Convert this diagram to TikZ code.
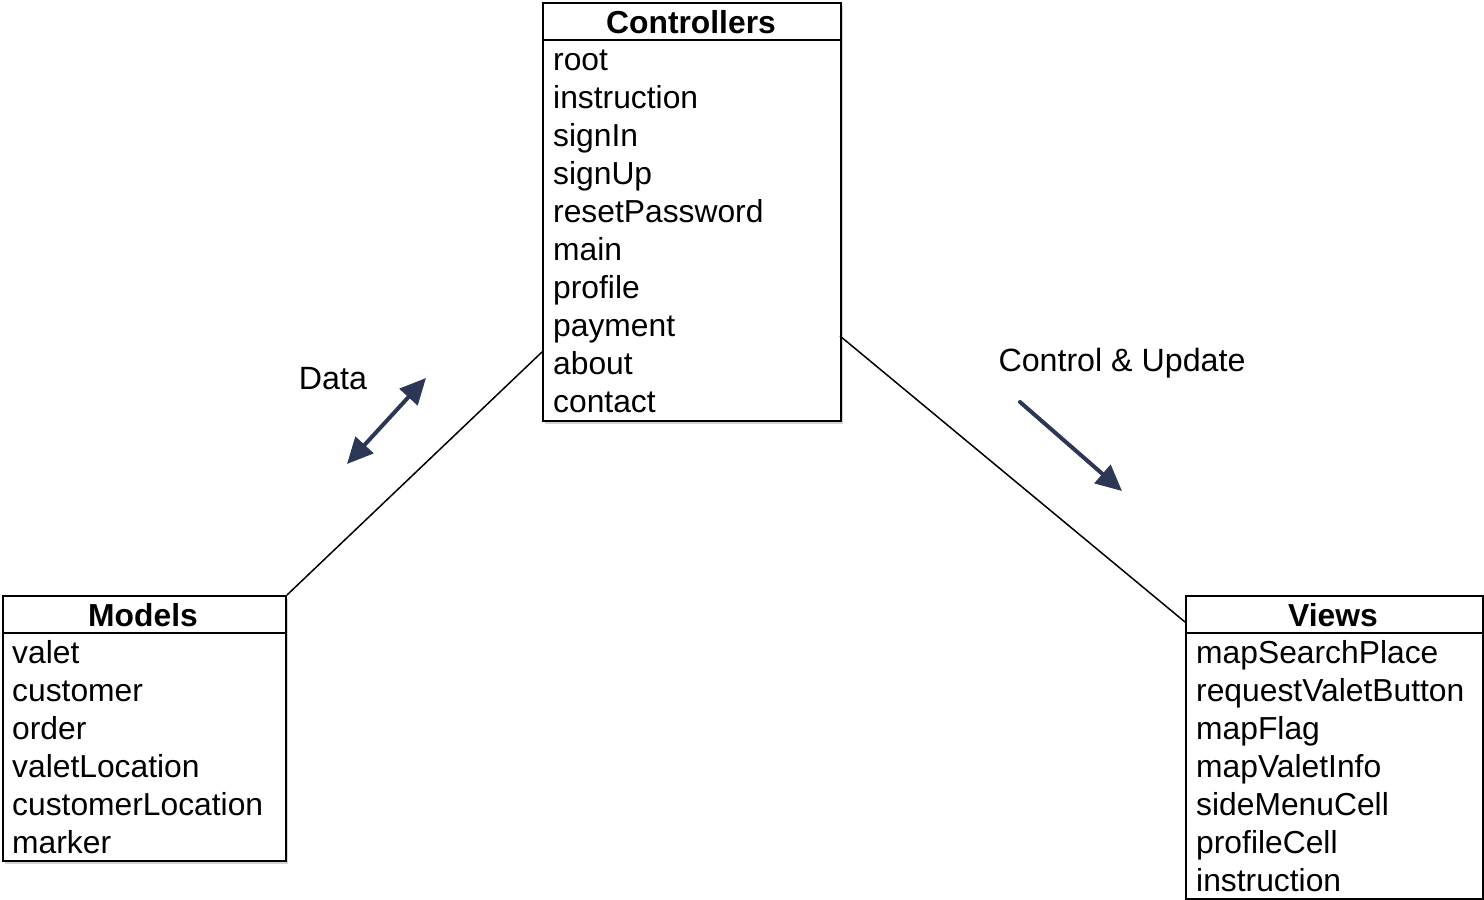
\documentclass[tikz,border=0pt]{standalone}
\usepackage{fontspec}
\setmainfont{Liberation Sans}
\usetikzlibrary{shadows,arrows.meta}
\definecolor{navy}{HTML}{2B3755}
\tikzset{hd/.tip={Triangle[length=26pt, width=24pt]}}
\begin{document}
\begin{tikzpicture}[x=1pt,y=-1pt,
  box/.style={draw=black, line width=2pt, fill=white, inner sep=0pt, anchor=north west,
    drop shadow={shadow xshift=2pt, shadow yshift=-3pt, opacity=0.35, fill=gray}},
  hdr/.style={font=\fontsize{31.8}{36}\selectfont\bfseries, inner sep=0pt, anchor=base},
  row/.style={font=\fontsize{31.8}{36}\selectfont, inner sep=0pt, anchor=base west},
  lbl/.style={font=\fontsize{32.2}{36}\selectfont, inner sep=0pt},
  conn/.style={line width=1.5pt, black},
  bigarrow/.style={line width=4pt, navy}
]
\useasboundingbox (0,0) rectangle (1484,900);

% connectors
\coordinate (cL) at (542,352);
\coordinate (cR) at (840,336);
\coordinate (vL) at (1185,622);

% boxes
\node[box, minimum width=298pt, minimum height=418pt] (ctrl) at (542,2) {};
\node[box, minimum width=283pt, minimum height=265pt] (models) at (2,595) {};
\node[box, minimum width=297pt, minimum height=303pt] (views) at (1185,595) {};

\draw[conn] (models.north east) -- (cL);
\draw[conn] (cR) -- (vL);

\draw[line width=1.5pt] (542,40) -- (840,40);
\draw[line width=1.5pt] (2,633) -- (285,633);
\draw[line width=1.5pt] (1185,633) -- (1482,633);

% headers
\node[hdr] (ctrlh) at (691,33) {Controllers};
\node[hdr] (modh) at (143,626) {Models};
\node[hdr] (viewh) at (1333,626) {Views};

% controller rows
\node[row] (c1) at (553,70) {root};
\node[row] (c2) at (553,108) {instruction};
\node[row] (c3) at (553,146) {signIn};
\node[row] (c4) at (553,184) {signUp};
\node[row] (c5) at (553,222) {resetPassword};
\node[row] (c6) at (553,260) {main};
\node[row] (c7) at (553,298) {profile};
\node[row] (c8) at (553,336) {payment};
\node[row] (c9) at (553,374) {about};
\node[row] (c10) at (553,412) {contact};

% model rows
\node[row] (m1) at (12,663) {valet};
\node[row] (m2) at (12,701) {customer};
\node[row] (m3) at (12,739) {order};
\node[row] (m4) at (12,777) {valetLocation};
\node[row] (m5) at (12,815) {customerLocation};
\node[row] (m6) at (12,853) {marker};

% view rows
\node[row] (v1) at (1196,663) {mapSearchPlace};
\node[row] (v2) at (1196,701) {requestValetButton};
\node[row] (v3) at (1196,739) {mapFlag};
\node[row] (v4) at (1196,777) {mapValetInfo};
\node[row] (v5) at (1196,815) {sideMenuCell};
\node[row] (v6) at (1196,853) {profileCell};
\node[row] (v7) at (1196,891) {instruction};

% labels and arrows
\node[lbl] (data) at (333,379) {Data};
\node[lbl] (cu) at (1122,363) {Control \& Update};

\coordinate (d1) at (347,464);
\coordinate (d2) at (426,378);
\draw[bigarrow, hd-hd] (d1) -- (d2);

\coordinate (u1) at (1020,402);
\coordinate (u2) at (1122,491);
\draw[bigarrow, line cap=round, -hd] (u1) -- (u2);
\end{tikzpicture}
\end{document}
